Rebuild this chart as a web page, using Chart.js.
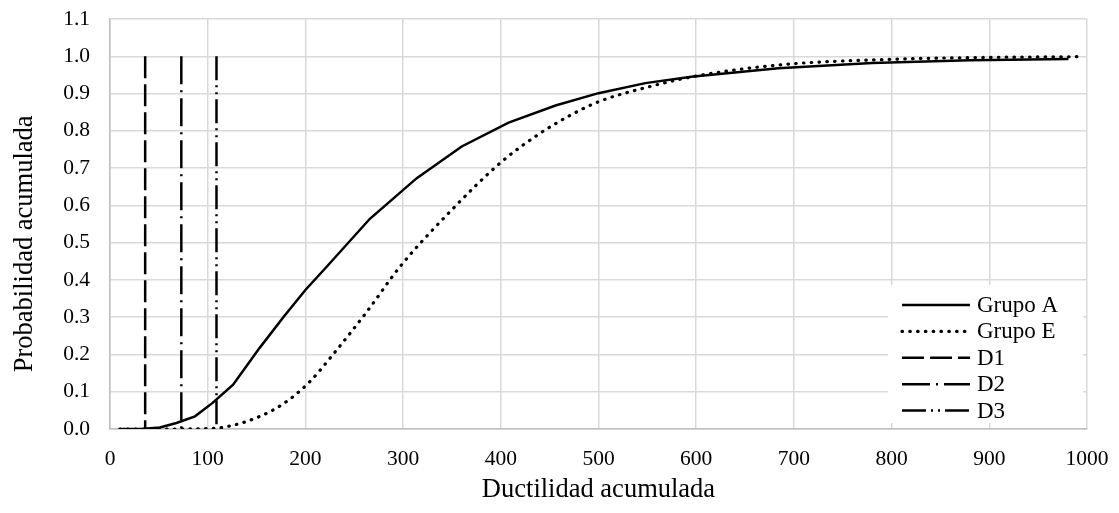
<!DOCTYPE html>
<html>
<head>
<meta charset="utf-8">
<script src="https://cdn.jsdelivr.net/npm/chart.js@4.4.0/dist/chart.umd.min.js"></script>
<style>
    body { margin: 0; background: #fff; }
    #wrap { width: 1119px; height: 513px; }
</style>
</head>
<body>
<div id="wrap"><canvas id="chartCurvas" width="1119" height="513"></canvas></div>
<script>
// Grupo A (linea continua)
const grupoAX = [10, 35, 51, 68, 87, 105, 126, 153, 178, 200, 222, 266, 314, 360, 408, 456, 500, 548, 595, 684, 780, 880, 981];
const grupoAY = [0, 0.001, 0.004, 0.016, 0.034, 0.07, 0.119, 0.217, 0.302, 0.373, 0.436, 0.564, 0.673, 0.758, 0.822, 0.868, 0.901, 0.928, 0.945, 0.968, 0.982, 0.989, 0.993];
// Grupo E (punteada)
const grupoEX = [10, 50, 100, 117, 148, 177, 203, 228, 263, 297, 348, 400, 440, 470, 500, 550, 600, 686, 800, 900, 996];
const grupoEY = [0, 0, 0.001, 0.005, 0.028, 0.067, 0.123, 0.199, 0.315, 0.436, 0.583, 0.715, 0.793, 0.84, 0.878, 0.917, 0.947, 0.977, 0.992, 0.997, 0.999];
// limites D1, D2, D3
const limitesNombre = ['D1', 'D2', 'D3'];
const limitesX = [36, 73, 109];
const limitesY = [1, 0];

const xTicks = [0, 100, 200, 300, 400, 500, 600, 700, 800, 900, 1000];
const yTicks = [0, 0.1, 0.2, 0.3, 0.4, 0.5, 0.6, 0.7, 0.8, 0.9, 1.0, 1.1];

const fuente = "'Liberation Serif', 'Times New Roman', serif";
const dashes = [[22, 6], [28, 6, 2, 6], [24, 5, 2, 5, 2, 5]];

function puntos(xs, ys) {
    return xs.map(function (x, i) { return { x: x, y: ys[i] }; });
}

const datasets = [
    {
        label: 'Grupo A',
        data: puntos(grupoAX, grupoAY),
        borderColor: '#000',
        borderWidth: 2.5,
        tension: 0,
        borderDash: []
    },
    {
        label: 'Grupo E',
        data: puntos(grupoEX, grupoEY),
        borderColor: '#000',
        borderWidth: 3.2,
        borderCapStyle: 'round',
        borderDash: [0.5, 7.3],
        cubicInterpolationMode: 'monotone'
    }
];
limitesX.forEach(function (lx, i) {
    datasets.push({
        label: limitesNombre[i],
        data: limitesY.map(function (y) { return { x: lx, y: y }; }),
        borderColor: '#000',
        borderWidth: 2.5,
        borderDash: dashes[i]
    });
});

// leyenda dibujada dentro del area del grafico
const leyendaInterna = {
    id: 'leyendaInterna',
    afterDatasetsDraw: function (chart) {
        const ctx = chart.ctx;
        ctx.save();
        ctx.fillStyle = '#fff';
        ctx.fillRect(888, 285, 195, 138);
        ctx.font = '23px ' + fuente;
        ctx.textBaseline = 'middle';
        chart.data.datasets.forEach(function (ds, i) {
            const y = 305 + i * 26.4;
            ctx.beginPath();
            ctx.strokeStyle = '#000';
            ctx.lineWidth = ds.borderWidth;
            ctx.lineCap = ds.borderCapStyle || 'butt';
            ctx.setLineDash(ds.borderDash || []);
            ctx.moveTo(902, y);
            ctx.lineTo(970, y);
            ctx.stroke();
            ctx.setLineDash([]);
            ctx.fillStyle = '#000';
            ctx.fillText(ds.label, 977, y + 1);
        });
        ctx.restore();
    }
};

new Chart(document.getElementById('chartCurvas'), {
    type: 'line',
    data: { datasets: datasets },
    plugins: [leyendaInterna],
    options: {
        responsive: false,
        devicePixelRatio: 1,
        animation: false,
        layout: { padding: { top: 19, right: 32, left: 0, bottom: 0 } },
        elements: { point: { radius: 0 } },
        plugins: { legend: { display: false }, tooltip: { enabled: false } },
        scales: {
            x: {
                type: 'linear',
                min: xTicks[0],
                max: xTicks[xTicks.length - 1],
                afterFit: function (s) { s.height = 84; s.paddingLeft = 0; s.paddingRight = 0; },
                afterBuildTicks: function (s) { s.ticks = xTicks.map(function (v) { return { value: v }; }); },
                grid: { color: '#d9d9d9', lineWidth: 1.5, drawTicks: false },
                border: { color: '#bfbfbf', width: 1.5 },
                ticks: {
                    color: '#000', padding: 17, maxRotation: 0, font: { family: fuente, size: 21.5 },
                    callback: function (v) { return String(v); }
                },
                title: { display: true, text: 'Ductilidad acumulada', color: '#000', padding: { top: 0, bottom: 7 }, font: { family: fuente, size: 26.5 } }
            },
            y: {
                min: yTicks[0],
                max: yTicks[yTicks.length - 1],
                afterFit: function (s) { s.width = 110; s.paddingTop = 0; s.paddingBottom = 0; },
                afterBuildTicks: function (s) { s.ticks = yTicks.map(function (v) { return { value: v }; }); },
                grid: { color: '#d9d9d9', lineWidth: 1.5, drawTicks: false },
                border: { color: '#bfbfbf', width: 1.5 },
                ticks: {
                    color: '#000', padding: 20, font: { family: fuente, size: 21.5 },
                    callback: function (v) { return Number(v).toFixed(1); }
                },
                // espacios al final para bajar el titulo como en el original
                title: { display: true, text: 'Probabilidad acumulada      ', color: '#000', padding: { top: 9, bottom: 0 }, font: { family: fuente, size: 26.5 } }
            }
        }
    }
});
</script>
</body>
</html>
